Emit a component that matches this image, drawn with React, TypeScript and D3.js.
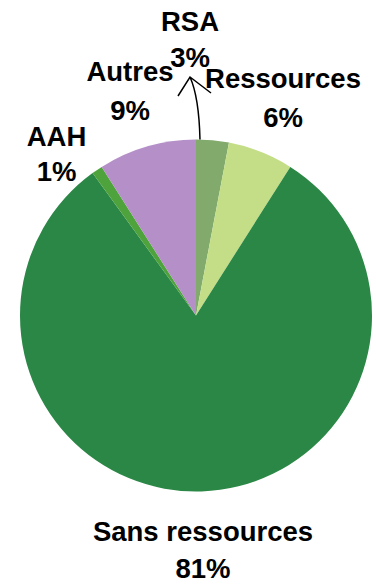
import React from "react";
import * as d3 from "d3";

const categories = ["RSA", "Ressources", "Sans ressources", "AAH", "Autres"];
const values = [3, 6, 81, 1, 9];
const colors = ["#82aa6d", "#c3de86", "#2a8745", "#4fa33c", "#b590c8"];

// label anchor positions (label line baseline, percent line baseline)
const labelLayout: Record<string, { x: number; y1: number; y2: number }> = {
  RSA: { x: 190, y1: 31, y2: 67 },
  Ressources: { x: 283, y1: 88, y2: 127 },
  "Sans ressources": { x: 203, y1: 541, y2: 578 },
  AAH: { x: 56.5, y1: 146, y2: 181 },
  Autres: { x: 130, y1: 81, y2: 120 },
};

const W = 376;
const H = 585;
const cx = 196;
const cy = 315.5;
const R = 176;

export default function App() {
  const pie = d3
    .pie<number>()
    .sort(null)
    .value((d) => d);
  const arcs = pie(values);
  const arcGen = d3.arc<d3.PieArcDatum<number>>().innerRadius(0).outerRadius(R);
  const total = d3.sum(values);

  // leader line for RSA
  const rsa = arcs[0];
  const a0 = rsa.startAngle + 0.12 * (rsa.endAngle - rsa.startAngle);
  const sx = cx + R * Math.sin(a0);
  const sy = cy - R * Math.cos(a0);
  const tip = { x: 190, y: 77 };

  return (
    <div style={{ position: "absolute", left: 0, top: 0 }}>
      <svg width={W} height={H} style={{ display: "block", background: "#fff" }}>
        <g transform={`translate(${cx},${cy})`}>
          {arcs.map((a, i) => (
            <path key={categories[i]} d={arcGen(a) || ""} fill={colors[i]} />
          ))}
        </g>
        <path
          d={`M${sx},${sy} Q${sx - 1},${tip.y + 20} ${tip.x},${tip.y} M${tip.x - 12},${tip.y + 19} L${tip.x},${tip.y} L${tip.x + 21},${tip.y + 16}`}
          fill="none"
          stroke="#000"
          strokeWidth={1.5}
        />
        {categories.map((c, i) => {
          const p = labelLayout[c];
          const pct = Math.round((values[i] / total) * 100) + "%";
          return (
            <g
              key={c}
              fontFamily="'Liberation Sans', Arial, sans-serif"
              fontWeight="bold"
              fontSize={27.5}
              fill="#000"
              textAnchor="middle"
            >
              <text x={p.x} y={p.y1}>{c}</text>
              <text x={p.x} y={p.y2}>{pct}</text>
            </g>
          );
        })}
      </svg>
    </div>
  );
}
